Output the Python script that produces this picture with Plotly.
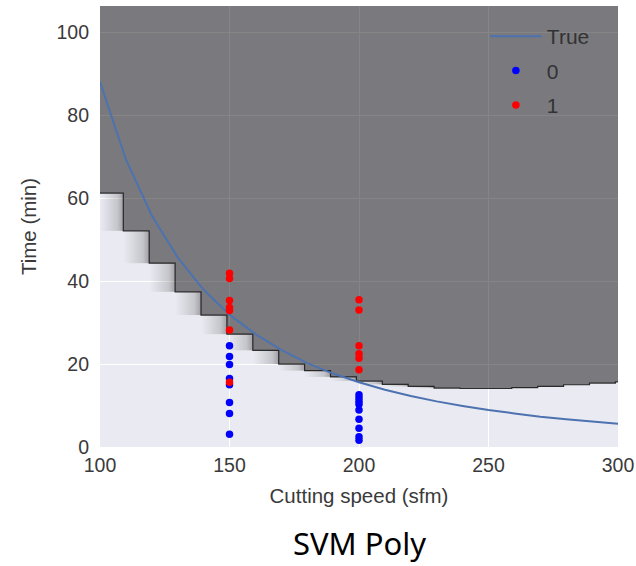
import plotly.graph_objects as go

# ---- data ----
curve_speed = [100, 110, 120, 130, 140, 150, 160, 170, 180, 190, 200,
               210, 220, 230, 240, 250, 260, 270, 280, 290, 300]
curve_time = [88.0, 69.3, 55.8, 45.7, 37.9, 31.9, 27.2, 23.4, 20.2, 17.7, 15.6,
              13.8, 12.3, 11.0, 9.9, 8.9, 8.1, 7.3, 6.7, 6.1, 5.6]

class0_speed = [150] * 8 + [200] * 9
class0_time = [24.4, 21.8, 19.9, 16.5, 15.0, 10.7, 8.1, 3.1,
               12.6, 11.8, 11.0, 10.3, 8.9, 6.7, 4.5, 2.5, 1.6]

class1_speed = [150] * 7 + [200] * 6
class1_time = [41.9, 40.6, 35.3, 33.6, 32.9, 28.2, 15.6,
               35.5, 33.0, 24.4, 22.5, 21.4, 18.6]

# decision boundary (SVM poly) read column by column
bnd_x = [100, 109, 119, 129, 139, 149, 159, 169, 179, 189, 199,
         209, 219, 229, 239, 249, 259, 269, 279, 289, 299]
bnd_y = [61.2, 52.1, 44.3, 37.4, 31.8, 27.2, 23.3, 20.0, 18.4, 16.9, 15.9,
         15.1, 14.6, 14.2, 14.1, 14.1, 14.3, 14.6, 15.0, 15.4, 15.7]

X_MIN, X_MAX = 100, 300
Y_MIN, Y_MAX = 0, 106.3

x_ticks = [100, 150, 200, 250, 300]
y_ticks = [0, 20, 40, 60, 80, 100]

# ---- figure ----
fig = go.Figure()

# stepped boundary
step_x = []
step_y = []
for i, (bx, by) in enumerate(zip(bnd_x, bnd_y)):
    nx = bnd_x[i + 1] if i + 1 < len(bnd_x) else X_MAX
    step_x += [bx, nx]
    step_y += [by, by]

# dark region (class 1)
fig.add_trace(go.Scatter(
    x=step_x + [X_MAX, X_MIN], y=step_y + [Y_MAX + 5, Y_MAX + 5],
    fill="toself", fillcolor="rgba(0,0,0,0.48)", mode="none",
    showlegend=False, hoverinfo="skip"))

# soft shading bands left of each step
for i in range(len(bnd_x) - 1):
    hi, lo = bnd_y[i], bnd_y[i + 1]
    if hi - lo < 0.4:
        continue
    x0, x1 = bnd_x[i], bnd_x[i + 1]
    fig.add_trace(go.Scatter(
        x=[x0, x1, x1, x0, x0], y=[lo, lo, hi, hi, lo],
        fill="toself", mode="none",
        fillgradient=dict(type="horizontal",
                          colorscale=[[0, "rgba(0,0,0,0)"],
                                      [0.3, "rgba(0,0,0,0.06)"],
                                      [0.75, "rgba(0,0,0,0.16)"],
                                      [1, "rgba(0,0,0,0.32)"]]),
        showlegend=False, hoverinfo="skip"))

# boundary outline
fig.add_trace(go.Scatter(
    x=step_x, y=step_y, mode="lines",
    line=dict(color="rgba(20,20,20,0.85)", width=1.2, shape="hv"),
    showlegend=False, hoverinfo="skip"))

fig.add_trace(go.Scatter(
    x=curve_speed, y=curve_time, mode="lines", name="True",
    line=dict(color="#4C72B0", width=2), legendgroup="a"))
fig.add_trace(go.Scatter(
    x=class0_speed, y=class0_time, mode="markers", name="0",
    marker=dict(color="#0000FF", size=7.5, line=dict(width=0)), legendgroup="b"))
fig.add_trace(go.Scatter(
    x=class1_speed, y=class1_time, mode="markers", name="1",
    marker=dict(color="#FF0000", size=7.5, line=dict(width=0)), legendgroup="c"))

tick_font = dict(family="Liberation Sans, Arial, sans-serif", size=19.5, color="#3a3a3a")
title_font = dict(family="Liberation Sans, Arial, sans-serif", size=20.5, color="#3a3a3a")

fig.update_layout(
    width=636, height=566,
    margin=dict(l=100, r=18, t=6, b=119),
    paper_bgcolor="white",
    plot_bgcolor="#EAEAF2",
    font=tick_font,
    legend=dict(x=0.743, y=0.977, xanchor="left", yanchor="top",
                bgcolor="rgba(0,0,0,0)", font=dict(size=21, color="#333333"),
                tracegroupgap=4, itemwidth=52, traceorder="grouped"),
    annotations=[dict(text="SVM Poly", x=0.5, xref="paper", y=-0.218, yref="paper",
                      xanchor="center", yanchor="middle", showarrow=False,
                      font=dict(family="Noto Sans, sans-serif", size=31, color="black"))],
)
fig.update_xaxes(
    range=[X_MIN, X_MAX], tickvals=x_ticks, ticktext=[str(v) for v in x_ticks],
    showgrid=True, gridcolor="white", gridwidth=1.2, zeroline=False, showline=False,
    ticks="", ticklabelstandoff=4, tickfont=tick_font, ticklabeloverflow="allow",
    automargin=False,
    title=dict(text="Cutting speed (sfm)", font=title_font, standoff=14))
fig.update_yaxes(
    range=[Y_MIN, Y_MAX], tickvals=y_ticks, ticktext=[str(v) for v in y_ticks],
    showgrid=True, gridcolor="white", gridwidth=1.2, zeroline=False, showline=False,
    ticks="", ticklabelstandoff=10, tickfont=tick_font, automargin=False,
    title=dict(text="Time (min)", font=title_font, standoff=14))

fig.write_html("out.html", config={"displayModeBar": False},
               post_script="document.body.style.margin='0';document.body.style.overflow='hidden';")
